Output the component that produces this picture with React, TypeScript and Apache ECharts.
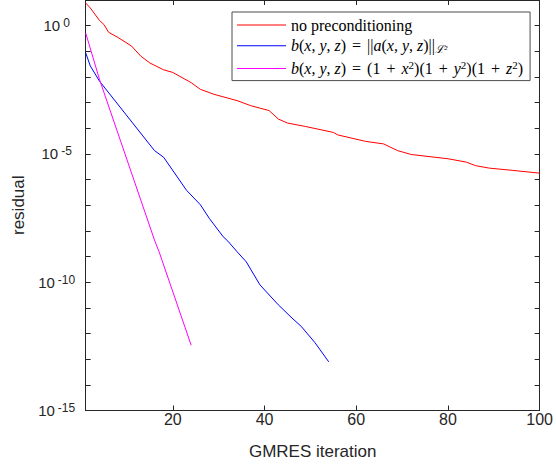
import React, { useEffect, useRef } from "react";
import * as echarts from "echarts";

const NAME_RED = "no preconditioning";
const NAME_BLUE = "b(x,y,z) = ||a(x,y,z)||_L2";
const NAME_MAG = "b(x,y,z) = (1+x^2)(1+y^2)(1+z^2)";

const redIter = [1, 2, 4, 5, 6, 8, 11, 13, 15, 18, 20, 24, 26, 29, 34, 37, 41, 43, 45, 49, 55, 56, 62, 66, 69, 72, 80, 84, 86, 89, 94, 100];
const redVal = [7.6, 4.9, 1.6, 1.1, 0.55, 0.35, 0.16, 0.065, 0.035, 0.019, 0.015, 6.0e-3, 3.3e-3, 2.1e-3, 1.2e-3, 7.6e-4, 4.9e-4, 2.3e-4, 1.6e-4, 1.17e-4, 6.9e-5, 5.5e-5, 3.1e-5, 2.45e-5, 1.35e-5, 9.5e-6, 6.5e-6, 4.8e-6, 3.5e-6, 2.8e-6, 2.3e-6, 1.78e-6];

const blueIter = [1, 2, 4, 16, 18, 23, 26, 28, 31, 32, 34, 36, 39, 43, 46, 48, 51, 54];
const blueVal = [0.087, 0.027, 6.9e-3, 1.35e-5, 7.4e-6, 3.8e-7, 1.05e-7, 3.0e-8, 5.9e-9, 4.0e-9, 1.55e-9, 6.3e-10, 7.9e-11, 1.32e-11, 4.0e-12, 1.9e-12, 4.4e-13, 7.9e-14];

const magIter = [1, 4, 16, 17, 24];
const magVal = [0.52, 8.1e-3, 4.4e-9, 1.55e-9, 3.5e-13];

const xTicks = [20, 40, 60, 80, 100];
const yTickVals = [10, 1, 1e-1, 1e-2, 1e-3, 1e-4, 1e-5, 1e-6, 1e-7, 1e-8, 1e-9, 1e-10, 1e-11, 1e-12, 1e-13, 1e-14, 1e-15];
const yLabelVals = [1, 1e-5, 1e-10, 1e-15];

const legendRich: Record<string, string> = {
  [NAME_RED]: "{r|no preconditioning}",
  [NAME_BLUE]:
    "{i|b}{r|(}{i|x}{r|, }{i|y}{r|, }{i|z}{r|) }{op|=}{r| ||}{i|a}{r|(}{i|x}{r|, }{i|y}{r|, }{i|z}{r|)||}{sub|\u2112\u00b2}",
  [NAME_MAG]:
    "{i|b}{r|(}{i|x}{r|, }{i|y}{r|, }{i|z}{r|) }{op|=}{r| (1 }{op|+}{r| }{i|x}{sup|2}{r|)(1 }{op|+}{r| }{i|y}{sup|2}{r|)(1 }{op|+}{r| }{i|z}{sup|2}{r|)}",
};

const zip = (a: number[], b: number[]) => a.map((v, i) => [v, b[i]]);

const AX = "#262626";
const LINE_ICON = "path://M0,0 L49,0 L49,1 L0,1 Z";

export default function App() {
  const ref = useRef<HTMLDivElement>(null);
  useEffect(() => {
    if (!ref.current) return;
    const chart = echarts.init(ref.current, undefined, { renderer: "svg" });
    const serif = "Liberation Serif";
    const yAxisBase = {
      type: "log" as const,
      logBase: 10,
      min: 1e-15,
      max: 10,
      axisLine: { show: true, lineStyle: { color: AX, width: 1 } },
      axisTick: { show: true, inside: true, length: 5, customValues: yTickVals, lineStyle: { color: AX } },
      splitLine: { show: false },
      minorTick: { show: false },
    };
    chart.setOption({
      animation: false,
      backgroundColor: "#ffffff",
      grid: { left: 85.7, right: 12.6, top: -3.15, bottom: 54.5, containLabel: false },
      legend: {
        show: true,
        orient: "vertical",
        left: 232,
        top: 12,
        padding: [5, 7, 4, 5],
        itemGap: 4.8,
        itemWidth: 49,
        itemHeight: 14,
        icon: LINE_ICON,
        backgroundColor: "#ffffff",
        borderColor: "#4d4d4d",
        borderWidth: 1,
        borderRadius: 0,
        data: [NAME_RED, NAME_BLUE, NAME_MAG],
        formatter: (name: string) => legendRich[name] || name,
        textStyle: {
          color: "#000",
          fontFamily: serif,
          fontSize: 16,
          rich: {
            r: { fontFamily: serif, fontSize: 16, lineHeight: 18, color: "#000" },
            op: { fontFamily: serif, fontSize: 16, lineHeight: 18, color: "#000", padding: [0, 2, 0, 2] },
            i: { fontFamily: serif, fontStyle: "italic", fontSize: 16, lineHeight: 18, color: "#000" },
            sup: { fontFamily: serif, fontSize: 11, lineHeight: 11, verticalAlign: "top", color: "#000" },
            sub: { fontFamily: serif, fontStyle: "italic", fontSize: 11, lineHeight: 11, verticalAlign: "bottom", color: "#000" },
          },
        },
      },
      xAxis: [
        {
          type: "value",
          min: 1,
          max: 100,
          position: "bottom",
          name: "GMRES iteration",
          nameLocation: "middle",
          nameGap: 32,
          nameTextStyle: { fontFamily: "Liberation Sans", fontSize: 17, color: AX },
          axisLine: { show: true, onZero: false, lineStyle: { color: AX, width: 1 } },
          axisTick: { show: true, inside: true, length: 5, customValues: xTicks, lineStyle: { color: AX } },
          axisLabel: {
            show: true,
            customValues: xTicks,
            margin: 1,
            fontFamily: "Liberation Sans",
            fontSize: 16,
            color: AX,
          },
          splitLine: { show: false },
        },
        {
          type: "value",
          min: 1,
          max: 100,
          position: "top",
          axisLine: { show: true, onZero: false, lineStyle: { color: AX, width: 1 } },
          axisTick: { show: true, inside: true, length: 5, customValues: xTicks, lineStyle: { color: AX } },
          axisLabel: { show: false },
          splitLine: { show: false },
        },
      ],
      yAxis: [
        {
          ...yAxisBase,
          position: "left",
          name: "residual",
          nameLocation: "middle",
          nameGap: 56,
          nameRotate: 90,
          nameTextStyle: { fontFamily: "Liberation Sans", fontSize: 17, color: AX },
          axisLabel: {
            show: true,
            customValues: yLabelVals,
            margin: 29,
            align: "center",
            color: AX,
            fontFamily: "Liberation Sans",
            formatter: (v: number) => {
              const e = Math.round(Math.log10(v));
              return "{b|10}{s|" + e + "}";
            },
            rich: {
              b: { fontFamily: "Liberation Sans", fontSize: 15, lineHeight: 17, color: AX },
              s: { fontFamily: "Liberation Sans", fontSize: 12, lineHeight: 12, verticalAlign: "top", color: AX, padding: [0, 0, 0, 3] },
            },
          },
        },
        {
          ...yAxisBase,
          position: "right",
          axisLabel: { show: false },
        },
      ],
      series: [
        {
          name: NAME_RED,
          type: "line",
          data: zip(redIter, redVal),
          symbol: "none",
          lineStyle: { color: "#ff0000", width: 1 },
          itemStyle: { color: "#ff0000" },
        },
        {
          name: NAME_BLUE,
          type: "line",
          data: zip(blueIter, blueVal),
          symbol: "none",
          lineStyle: { color: "#0000ff", width: 1 },
          itemStyle: { color: "#0000ff" },
        },
        {
          name: NAME_MAG,
          type: "line",
          data: zip(magIter, magVal),
          symbol: "none",
          lineStyle: { color: "#ff00ff", width: 1 },
          itemStyle: { color: "#ff00ff" },
        },
      ],
    });
    return () => chart.dispose();
  }, []);
  return <div ref={ref} style={{ width: 556, height: 465, position: "absolute", left: 0, top: 0 }} />;
}
